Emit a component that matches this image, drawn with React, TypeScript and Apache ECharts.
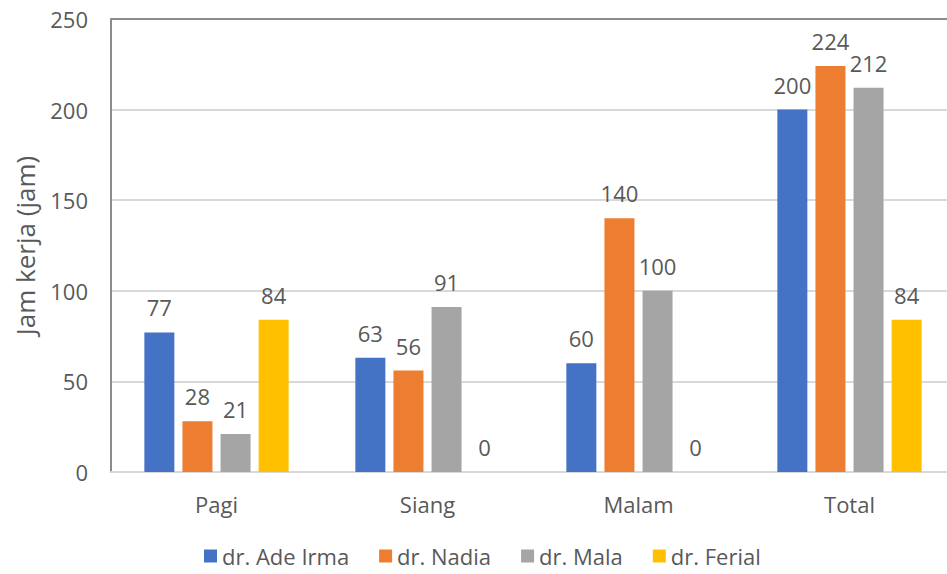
import React, { useEffect, useRef } from "react";
import * as echarts from "echarts";

const categories = ["Pagi", "Siang", "Malam", "Total"];
const seriesNames = ["dr. Ade Irma", "dr. Nadia", "dr. Mala", "dr. Ferial"];
const adeIrma = [77, 63, 60, 200];
const nadia = [28, 56, 140, 224];
const mala = [21, 91, 100, 212];
const ferial = [84, 0, 0, 84];
const colors = ["#4472C4", "#ED7D31", "#A5A5A5", "#FFC000"];
const yTicks = { min: 0, max: 250, interval: 50 };

const FONT = "'Open Sans', 'Noto Sans', sans-serif";
const TEXT = "#595959";

export default function App() {
  const ref = useRef<HTMLDivElement>(null);
  useEffect(() => {
    if (!ref.current) return;
    const chart = echarts.init(ref.current, null, { renderer: "svg" });
    const values = [adeIrma, nadia, mala, ferial];
    chart.setOption({
      animation: false,
      textStyle: { fontFamily: FONT },
      color: colors,
      legend: {
        bottom: 2,
        left: 199,
        itemWidth: 13,
        itemHeight: 13,
        itemGap: 30,
        icon: "rect",
        textStyle: { fontSize: 22, color: TEXT, fontFamily: FONT },
        data: seriesNames,
      },
      grid: { left: 111, right: -8, top: 19, bottom: 102, outerBoundsMode: "none" },
      xAxis: [
        {
          type: "category",
          data: categories,
          axisLine: { lineStyle: { color: "#d9d9d9", width: 2 } },
          axisTick: { show: false },
          axisLabel: { fontSize: 22, color: TEXT, margin: 21, fontFamily: FONT },
        },
        {
          type: "category",
          data: categories,
          position: "top",
          axisLine: { lineStyle: { color: "#8c8c8c", width: 2 } },
          axisTick: { show: false },
          axisLabel: { show: false },
        },
      ],
      yAxis: {
        type: "value",
        min: yTicks.min,
        max: yTicks.max,
        interval: yTicks.interval,
        name: "Jam kerja (jam)",
        nameLocation: "middle",
        nameGap: 73,
        nameTextStyle: { fontSize: 26, color: TEXT, fontFamily: FONT },
        axisLine: { show: true, lineStyle: { color: "#8c8c8c", width: 2 } },
        axisTick: { show: false },
        axisLabel: { fontSize: 22, color: TEXT, margin: 23, fontFamily: FONT },
        splitLine: { lineStyle: { color: "#d9d9d9", width: 2 } },
      },
      series: seriesNames.map((name, i) => ({
        name,
        type: "bar",
        xAxisIndex: 0,
        data: values[i],
        barWidth: 30,
        barGap: "27%",
        itemStyle: { color: colors[i] },
        label: {
          show: true,
          position: "top",
          distance: 14,
          fontSize: 22,
          color: TEXT,
          fontFamily: FONT,
        },
      })),
    });
    return () => chart.dispose();
  }, []);
  return (
    <div
      ref={ref}
      style={{ position: "absolute", left: 0, top: 0, width: 947, height: 574, background: "#fff" }}
    />
  );
}
